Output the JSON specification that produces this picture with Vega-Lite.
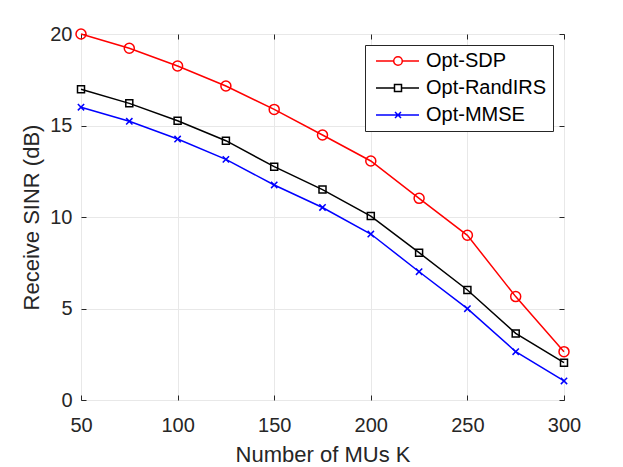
{
  "$schema": "https://vega.github.io/schema/vega-lite/v6.json",
  "autosize": {"type": "none"},
  "padding": {"left": 81, "top": 34, "right": 59, "bottom": 67},
  "width": 483,
  "height": 366,
  "background": "white",
  "config": {
    "font": "Liberation Sans",
    "view": {"stroke": "#262626", "strokeWidth": 1},
    "axis": {
      "labelFont": "Liberation Sans",
      "titleFont": "Liberation Sans",
      "labelColor": "#262626",
      "titleColor": "#262626",
      "domainColor": "#262626",
      "tickColor": "#262626",
      "gridColor": "#e8e8e8",
      "labelFontSize": 20,
      "titleFontSize": 22,
      "titleFontWeight": "normal",
      "labelFlush": false,
      "tickSize": -5
    }
  },
  "data": {
    "values": [
      {"K": 50, "series": "Opt-SDP", "sinr": 20.0},
      {"K": 75, "series": "Opt-SDP", "sinr": 19.22},
      {"K": 100, "series": "Opt-SDP", "sinr": 18.25},
      {"K": 125, "series": "Opt-SDP", "sinr": 17.16},
      {"K": 150, "series": "Opt-SDP", "sinr": 15.88},
      {"K": 175, "series": "Opt-SDP", "sinr": 14.48},
      {"K": 200, "series": "Opt-SDP", "sinr": 13.06},
      {"K": 225, "series": "Opt-SDP", "sinr": 11.02},
      {"K": 250, "series": "Opt-SDP", "sinr": 9.0},
      {"K": 275, "series": "Opt-SDP", "sinr": 5.65},
      {"K": 300, "series": "Opt-SDP", "sinr": 2.64},
      {"K": 50, "series": "Opt-RandIRS", "sinr": 16.98},
      {"K": 75, "series": "Opt-RandIRS", "sinr": 16.21},
      {"K": 100, "series": "Opt-RandIRS", "sinr": 15.26},
      {"K": 125, "series": "Opt-RandIRS", "sinr": 14.17},
      {"K": 150, "series": "Opt-RandIRS", "sinr": 12.75},
      {"K": 175, "series": "Opt-RandIRS", "sinr": 11.5},
      {"K": 200, "series": "Opt-RandIRS", "sinr": 10.05},
      {"K": 225, "series": "Opt-RandIRS", "sinr": 8.05},
      {"K": 250, "series": "Opt-RandIRS", "sinr": 6.01},
      {"K": 275, "series": "Opt-RandIRS", "sinr": 3.64},
      {"K": 300, "series": "Opt-RandIRS", "sinr": 2.04},
      {"K": 50, "series": "Opt-MMSE", "sinr": 16.0},
      {"K": 75, "series": "Opt-MMSE", "sinr": 15.23},
      {"K": 100, "series": "Opt-MMSE", "sinr": 14.26},
      {"K": 125, "series": "Opt-MMSE", "sinr": 13.15},
      {"K": 150, "series": "Opt-MMSE", "sinr": 11.75},
      {"K": 175, "series": "Opt-MMSE", "sinr": 10.52},
      {"K": 200, "series": "Opt-MMSE", "sinr": 9.07},
      {"K": 225, "series": "Opt-MMSE", "sinr": 7.01},
      {"K": 250, "series": "Opt-MMSE", "sinr": 4.99},
      {"K": 275, "series": "Opt-MMSE", "sinr": 2.64},
      {"K": 300, "series": "Opt-MMSE", "sinr": 1.04}
    ]
  },
  "resolve": {"axis": {"x": "independent", "y": "independent"}},
  "layer": [
    {
      "mark": {"type": "line", "strokeWidth": 1.5},
      "encoding": {
        "x": {
          "field": "K", "type": "quantitative",
          "scale": {"domain": [50, 300], "nice": false},
          "axis": {"values": [50, 100, 150, 200, 250, 300], "title": "Number of MUs K", "labelPadding": 20, "titlePadding": 9, "domain": false}
        },
        "y": {
          "field": "sinr", "type": "quantitative",
          "scale": {"domain": [0, 20], "nice": false},
          "axis": {"values": [0, 5, 10, 15, 20], "title": "Receive SINR (dB)", "labelPadding": 14, "titlePadding": 6, "domain": false}
        },
        "color": {
          "field": "series", "type": "nominal",
          "scale": {"domain": ["Opt-SDP", "Opt-RandIRS", "Opt-MMSE"], "range": ["#ff0000", "#000000", "#0000ff"]},
          "legend": {
            "title": null,
            "orient": "top-right",
            "offset": 11,
            "padding": 6,
            "fillColor": "white",
            "strokeColor": "#262626",
            "labelFont": "Liberation Sans",
            "labelFontSize": 20,
            "labelColor": "#000000",
            "labelOffset": 35,
            "rowPadding": 7,
            "symbolSize": 100,
            "symbolStrokeWidth": 1.5,
            "encode": {
              "symbols": {
                "update": {
                  "shape": {"signal": "datum.value === 'Opt-SDP' ? 'M-1,0H2.54M4.26,0H7.6M4.26,0A0.86,0.86 0 1,1 2.54,0A0.86,0.86 0 1,1 4.26,0' : datum.value === 'Opt-RandIRS' ? 'M-1,0H2.7M4.1,0H7.6M2.7,-0.7H4.1V0.7H2.7Z' : 'M-1,0H7.6M2.8,-0.6L4,0.6M2.8,0.6L4,-0.6'"},
                  "fill": {"value": "transparent"}
                }
              }
            }
          }
        }
      }
    },
    {
      "transform": [{"filter": "datum.series === 'Opt-SDP'"}],
      "mark": {"type": "point", "shape": "circle", "filled": false, "strokeWidth": 1.5, "opacity": 1, "size": 100, "color": "#ff0000"},
      "encoding": {
        "x": {
          "field": "K", "type": "quantitative",
          "axis": {"orient": "top", "values": [50, 100, 150, 200, 250, 300], "labels": false, "title": null, "grid": false, "domain": false}
        },
        "y": {
          "field": "sinr", "type": "quantitative",
          "axis": {"orient": "right", "values": [0, 5, 10, 15, 20], "labels": false, "title": null, "grid": false, "domain": false}
        }
      }
    },
    {
      "transform": [{"filter": "datum.series === 'Opt-RandIRS'"}],
      "mark": {"type": "point", "shape": "square", "filled": false, "strokeWidth": 1.5, "opacity": 1, "size": 49, "color": "#000000"},
      "encoding": {
        "x": {"field": "K", "type": "quantitative", "axis": null},
        "y": {"field": "sinr", "type": "quantitative", "axis": null}
      }
    },
    {
      "transform": [{"filter": "datum.series === 'Opt-MMSE'"}],
      "mark": {"type": "point", "shape": "M-1,-1L1,1M-1,1L1,-1", "filled": false, "strokeWidth": 1.5, "opacity": 1, "size": 40, "color": "#0000ff"},
      "encoding": {
        "x": {"field": "K", "type": "quantitative", "axis": null},
        "y": {"field": "sinr", "type": "quantitative", "axis": null}
      }
    }
  ]
}
